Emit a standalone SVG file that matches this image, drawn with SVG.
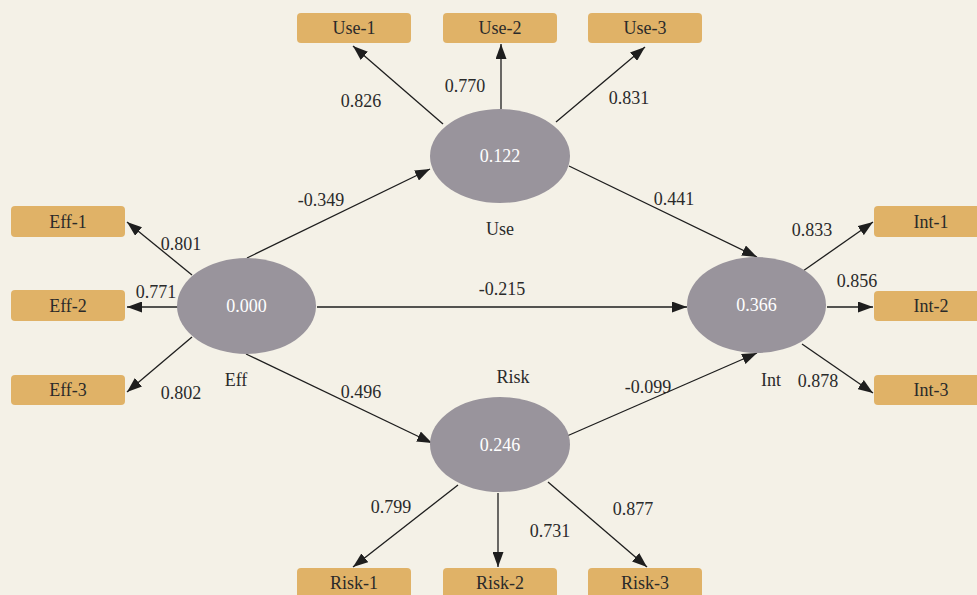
<svg xmlns="http://www.w3.org/2000/svg" width="977" height="595" viewBox="0 0 977 595">
<defs>
<marker id="ah" markerUnits="userSpaceOnUse" markerWidth="15" markerHeight="11" refX="15" refY="5.5" orient="auto">
<path d="M0,0 L15,5.5 L0,11 z" fill="#1e1e1e"/>
</marker>
<style>
text{font-family:"Liberation Serif","Times New Roman",serif;font-size:18px;fill:#2a2a2a;text-anchor:middle;dominant-baseline:central}
.box{fill:#e0b267}
.lv{fill:#99949c}
.lv-t{fill:#ffffff}
.c line{stroke:#1e1e1e;stroke-width:1.3;marker-end:url(#ah)}
</style>
</defs>
<rect width="977" height="595" fill="#f4f1e7"/>
<g class="c" id="connectors">
<line x1="443" y1="124" x2="353" y2="46"/>
<line x1="501" y1="109" x2="501" y2="44"/>
<line x1="556" y1="122" x2="645" y2="47"/>
<line x1="192" y1="275" x2="127" y2="222"/>
<line x1="178" y1="307" x2="127" y2="307"/>
<line x1="192" y1="337" x2="127" y2="392"/>
<line x1="803" y1="271" x2="873" y2="222"/>
<line x1="827" y1="307" x2="873" y2="307"/>
<line x1="802" y1="344" x2="873" y2="393"/>
<line x1="458" y1="485" x2="353" y2="567"/>
<line x1="498" y1="493" x2="498" y2="567"/>
<line x1="548" y1="482" x2="647" y2="567"/>
<line x1="247" y1="258" x2="430" y2="169"/>
<line x1="569" y1="166" x2="757" y2="257"/>
<line x1="317" y1="307" x2="687" y2="307"/>
<line x1="246" y1="354" x2="432" y2="443"/>
<line x1="567" y1="436" x2="757" y2="353"/>
</g>
<g id="labels">
<text x="361" y="101">0.826</text>
<text x="465" y="86">0.770</text>
<text x="629" y="98">0.831</text>
<text x="321" y="200">-0.349</text>
<text x="674" y="199">0.441</text>
<text x="181" y="244">0.801</text>
<text x="156" y="292">0.771</text>
<text x="181" y="393">0.802</text>
<text x="502" y="289">-0.215</text>
<text x="812" y="230">0.833</text>
<text x="857" y="281">0.856</text>
<text x="818" y="381">0.878</text>
<text x="361" y="392">0.496</text>
<text x="648" y="387">-0.099</text>
<text x="391" y="507">0.799</text>
<text x="550" y="531">0.731</text>
<text x="633" y="509">0.877</text>
</g>
<g id="Use"><ellipse class="lv" cx="500" cy="156" rx="70" ry="47"/><text class="lv-t" x="500" y="156">0.122</text><text x="500" y="229">Use</text></g>
<g id="Eff"><ellipse class="lv" cx="246.5" cy="306" rx="69.5" ry="48"/><text class="lv-t" x="246.5" y="306">0.000</text><text x="236" y="380">Eff</text></g>
<g id="Int"><ellipse class="lv" cx="756.5" cy="305" rx="69.5" ry="48"/><text class="lv-t" x="756.5" y="305">0.366</text><text x="771" y="380">Int</text></g>
<g id="Risk"><ellipse class="lv" cx="500" cy="444.5" rx="70" ry="47.5"/><text class="lv-t" x="500" y="444.5">0.246</text><text x="513" y="377">Risk</text></g>
<g id="Use-1"><rect class="box" x="297" y="13" width="114" height="30" rx="4"/><text x="354" y="28">Use-1</text></g>
<g id="Use-2"><rect class="box" x="443" y="13" width="114" height="30" rx="4"/><text x="500" y="28">Use-2</text></g>
<g id="Use-3"><rect class="box" x="588" y="13" width="114" height="30" rx="4"/><text x="645" y="28">Use-3</text></g>
<g id="Eff-1"><rect class="box" x="11" y="206" width="114" height="31" rx="4"/><text x="68" y="221.5">Eff-1</text></g>
<g id="Eff-2"><rect class="box" x="11" y="290" width="114" height="31" rx="4"/><text x="68" y="305.5">Eff-2</text></g>
<g id="Eff-3"><rect class="box" x="11" y="375" width="114" height="30" rx="4"/><text x="68" y="390">Eff-3</text></g>
<g id="Int-1"><rect class="box" x="874" y="206" width="114" height="31" rx="4"/><text x="931" y="221.5">Int-1</text></g>
<g id="Int-2"><rect class="box" x="874" y="291" width="114" height="30" rx="4"/><text x="931" y="306">Int-2</text></g>
<g id="Int-3"><rect class="box" x="874" y="375" width="114" height="30" rx="4"/><text x="931" y="390">Int-3</text></g>
<g id="Risk-1"><rect class="box" x="297" y="568" width="114" height="34" rx="4"/><text x="354" y="583">Risk-1</text></g>
<g id="Risk-2"><rect class="box" x="443" y="568" width="114" height="34" rx="4"/><text x="500" y="583">Risk-2</text></g>
<g id="Risk-3"><rect class="box" x="588" y="568" width="114" height="34" rx="4"/><text x="645" y="583">Risk-3</text></g>
</svg>
